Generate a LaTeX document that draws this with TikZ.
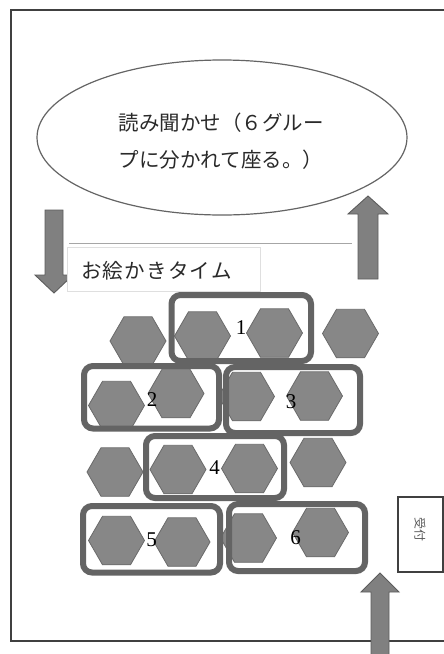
\documentclass[tikz,border=0pt]{standalone}
\usepackage{fontspec}
\newfontfamily\cjk{Noto Sans CJK JP}
\newfontfamily\cjkwide[LetterSpace=6]{Noto Sans CJK JP}
\newfontfamily\serifdig{Liberation Serif}
\usetikzlibrary{shapes.geometric}
\definecolor{framec}{HTML}{404040}
\definecolor{boxc}{HTML}{646464}
\definecolor{hexfill}{HTML}{878787}
\definecolor{hexdraw}{HTML}{6A6A6A}
\definecolor{arrfill}{HTML}{808080}
\definecolor{arrdraw}{HTML}{5C5C5C}
\definecolor{txtc}{HTML}{2A2A2A}
\tikzset{
  hexa/.style={regular polygon, regular polygon sides=6, minimum size=56pt, inner sep=0pt, fill=hexfill, draw=hexdraw, line width=0.8pt},
  grp/.style={draw=boxc, line width=6pt, rounded corners=9pt, inner sep=0pt},
  blockarrow/.style={fill=arrfill, draw=arrdraw, line width=0.9pt},
  num/.style={font=\serifdig\fontsize{21}{21}\selectfont, inner sep=0pt, text=black},
  jtext/.style={font=\cjk\fontsize{20.5}{36.5}\selectfont, text=txtc, inner sep=0pt},
}
\begin{document}
\begin{tikzpicture}[x=1pt,y=-1pt]
\useasboundingbox (0,0) rectangle (444,654);
\clip (0,0) rectangle (444,654);
\fill[white] (0,0) rectangle (444,654);
% frame
\coordinate (ftr) at (444,10);
\coordinate (ftl) at (11,10);
\coordinate (fbl) at (11,641);
\coordinate (fbr) at (444,641);
\draw[framec, line width=1.3pt] (ftr) -- (ftl) -- (fbl) -- (fbr);
% ellipse
\node[ellipse, draw=boxc, line width=1.2pt, minimum width=370pt, minimum height=155pt, inner sep=0pt] (ell) at (222,137.5) {};
\node[jtext, align=center] (elltext) at (221,141) {読み聞かせ（６グルー\\プに分かれて座る。）};
% arrows
\draw[blockarrow] (45,210) -- (63,210) -- (63,275) -- (73,275) -- (54,293) -- (35,275) -- (45,275) -- cycle;
\draw[blockarrow] (358,279) -- (378,279) -- (378,214) -- (388,214) -- (368,196) -- (348,214) -- (358,214) -- cycle;
% horizontal line
\coordinate (hl1) at (69,243);
\coordinate (hl2) at (352,243);
\draw[gray!70, line width=1pt] (hl1) -- (hl2);
% drawing time box
\node[draw=gray!25, fill=white, line width=0.8pt, minimum width=193pt, minimum height=44pt, inner sep=0pt] (drawbox) at (163.5,269) {};
\node[jtext, font=\cjkwide\fontsize{20.5}{24}\selectfont, anchor=west] (drawtext) at (81,270.5) {お絵かきタイム};
% hexagons
\node[hexa] (h1a) at (138,341) {};
\node[hexa] (h1b) at (202.5,336) {};
\node[hexa] (h1c) at (274.5,333) {};
\node[hexa] (h1d) at (350.5,333.5) {};
\node[hexa] (h2a) at (116.5,405.5) {};
\node[hexa] (h2b) at (176,393.5) {};
\node[hexa] (h2c) at (246.5,396.5) {};
\node[hexa] (h2d) at (314.5,396) {};
\node[hexa] (h3a) at (115,472) {};
\node[hexa] (h3b) at (178,469.5) {};
\node[hexa] (h3c) at (249.5,468.5) {};
\node[hexa] (h3d) at (318,462.5) {};
\node[hexa] (h4a) at (116.5,540.5) {};
\node[hexa] (h4b) at (182,542) {};
\node[hexa] (h4c) at (248.5,538) {};
\node[hexa] (h4d) at (320.5,532.5) {};
% group boxes
\node[grp, minimum width=139.5pt, minimum height=66pt] (g1) at (241.25,328) {};
\node[grp, minimum width=135pt, minimum height=62.5pt] (g2) at (151.5,397.25) {};
\node[grp, minimum width=134pt, minimum height=66pt] (g3) at (293,400) {};
\node[grp, minimum width=138pt, minimum height=62pt] (g4) at (215,467) {};
\node[grp, minimum width=137pt, minimum height=66.5pt] (g5) at (151.5,539.25) {};
\node[grp, minimum width=136pt, minimum height=67pt] (g6) at (297,537.5) {};
% numbers
\node[num] (n1) at (241,328) {1};
\node[num] (n2) at (152,400) {2};
\node[num] (n3) at (291,401.5) {3};
\node[num] (n4) at (214.5,467.5) {4};
\node[num] (n5) at (151.5,539.5) {5};
\node[num] (n6) at (295.5,537.5) {6};
% reception
\node[draw=framec, line width=1.2pt, fill=white, minimum width=45pt, minimum height=75pt, inner sep=0pt] (recbox) at (420.5,534.5) {};
\node[rotate=-90, font=\cjk\fontsize{12}{12}\selectfont, text=gray!70!black, inner sep=0pt] (rectext) at (420,529) {受付};
% bottom arrow
\draw[blockarrow] (371,660) -- (389,660) -- (389,592) -- (399,592) -- (380,573) -- (361,592) -- (371,592) -- cycle;
\end{tikzpicture}
\end{document}
